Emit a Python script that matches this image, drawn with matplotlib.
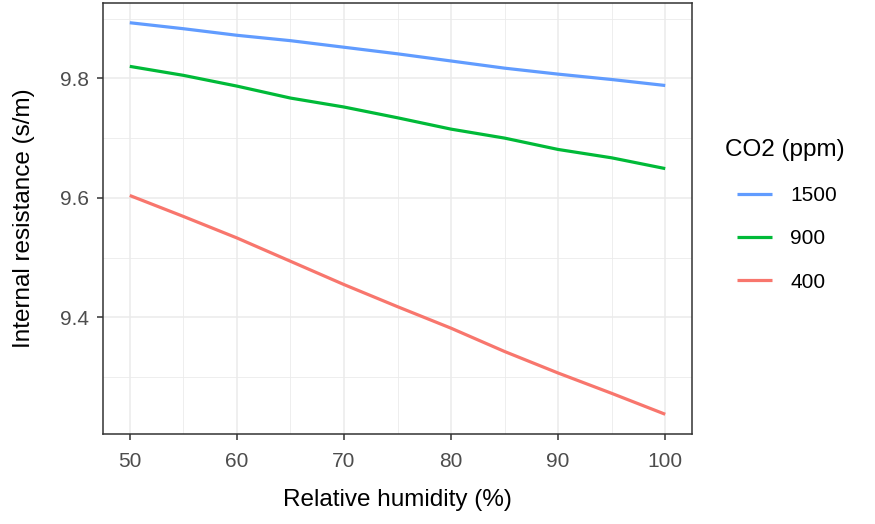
import numpy as np
import matplotlib
matplotlib.use("Agg")
import matplotlib.pyplot as plt
from matplotlib.ticker import MultipleLocator

plt.rcParams['font.family'] = ['Liberation Sans', 'DejaVu Sans']

# data
humidity = [50, 55, 60, 65, 70, 75, 80, 85, 90, 95, 100]
res_1500 = [9.893, 9.883, 9.872, 9.863, 9.852, 9.841, 9.829, 9.817, 9.807, 9.798, 9.788]
res_900 = [9.820, 9.805, 9.787, 9.767, 9.752, 9.734, 9.715, 9.700, 9.681, 9.667, 9.649]
res_400 = [9.604, 9.569, 9.533, 9.494, 9.455, 9.418, 9.382, 9.343, 9.307, 9.273, 9.238]

series_labels = ["1500", "900", "400"]
series_colors = ["#619CFF", "#00BA38", "#F8766D"]

W, H = 875, 524
fig = plt.figure(figsize=(W / 100, H / 100), dpi=100)
ax = fig.add_axes([103 / W, 1 - 434 / H, (692 - 103) / W, (434 - 3) / H])

for vals, lab, col in zip([res_1500, res_900, res_400], series_labels, series_colors):
    ax.plot(humidity, vals, color=col, lw=2.3, label=lab, solid_capstyle='butt')

ax.set_xlim(47.5, 102.5)
ax.set_ylim(9.205, 9.926)
ax.xaxis.set_major_locator(MultipleLocator(10))
ax.xaxis.set_minor_locator(MultipleLocator(5))
ax.set_yticks([9.4, 9.6, 9.8])
ax.set_yticks([9.3, 9.5, 9.7, 9.9], minor=True)

ax.grid(True, which='major', color='#EBEBEB', lw=1.1)
ax.grid(True, which='minor', color='#EBEBEB', lw=0.6)
ax.set_axisbelow(True)
for s in ax.spines.values():
    s.set_color('#333333')
    s.set_linewidth(1.1)

ax.tick_params(which='major', direction='out', length=4, width=1.1, color='#333333',
               labelsize=15, labelcolor='#4D4D4D')
ax.tick_params(axis='x', pad=9)
ax.tick_params(axis='y', pad=6)
ax.tick_params(which='minor', length=0)

ax.set_xlabel("Relative humidity (%)", fontsize=17.5, color='black', labelpad=13)
ax.set_ylabel("Internal resistance (s/m)", fontsize=17.5, color='black', labelpad=18)

# legend: title placed separately so it can sit left of the keys like ggplot
fig.text(725 / W, 1 - 150 / H, "CO2 (ppm)", fontsize=17.5, ha='left', va='center')
leg = ax.legend(loc='upper left', bbox_to_anchor=(737 / W, 1 - 186 / H),
                bbox_transform=fig.transFigure, frameon=False, fontsize=15,
                handlelength=1.7, handletextpad=0.85, labelspacing=1.17,
                borderpad=0, borderaxespad=0)

fig.savefig("out.png", dpi=100)
